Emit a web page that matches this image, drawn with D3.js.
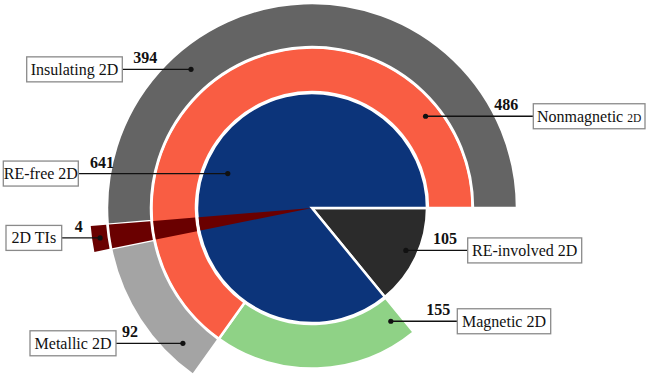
<!DOCTYPE html>
<html>
<head>
<meta charset="utf-8">
<script src="https://cdn.jsdelivr.net/npm/d3@7"></script>
<style>
  body { margin: 0; background: #fff; }
</style>
</head>
<body>
<svg id="chart" width="646" height="388"></svg>
<script>
// data
const innerNames = ["RE-involved 2D", "RE-free 2D"];
const innerValues = [105, 641];
const middleNames = ["Magnetic 2D", "Nonmagnetic 2D"];
const middleValues = [155, 486];
const outerNames = ["Metallic 2D", "2D TIs", "Insulating 2D"];
const outerValues = [92, 4, 394];

const colors = {
  "RE-involved 2D": "#2b2b2b",
  "RE-free 2D": "#0c347a",
  "Magnetic 2D": "#8fd286",
  "Nonmagnetic 2D": "#f95d43",
  "Metallic 2D": "#a4a4a4",
  "2D TIs": "#6a0000",
  "Insulating 2D": "#646464"
};
const font = "'Liberation Serif', 'Times New Roman', 'DejaVu Serif', serif";

const cx = 312, cy = 208;
const minTI = 14; // min visible share for the tiny TI slice
const svg = d3.select("#chart");
const g = svg.append("g").attr("transform", `translate(${cx},${cy})`);

const total = d3.sum(innerValues);
const ang = d3.scaleLinear().domain([0, total]).range([Math.PI / 2, Math.PI / 2 + 2 * Math.PI]);

// lay out the segments of each ring in value units
function layout(names, values, start) {
  let acc = start;
  return names.map((n, i) => {
    const s = acc;
    acc += values[i];
    return { name: n, value: values[i], s: s, e: acc };
  });
}
const inner = layout(innerNames, innerValues, 0);
const middle = layout(middleNames, middleValues, inner[0].e);
const nonmag = middle[1];
// outer ring fills the nonmagnetic span, TI slice widened to be visible
const span = nonmag.e - nonmag.s;
const rest = span - minTI;
const outerShown = outerValues.map((v, i) => outerNames[i] === "2D TIs" ? minTI : v * rest / span);
const outer = layout(outerNames, outerShown, nonmag.s).map((d, i) => ({ ...d, value: outerValues[i] }));

const rings = [
  { segs: inner, r0: 0, r1: 115 },
  { segs: middle, r0: 116, r1: 160.5 },
  { segs: outer, r0: 161, r1: 205 }
];

const arc = d3.arc();

rings.forEach(ring => {
  g.selectAll(null)
    .data(ring.segs.filter(d => d.name !== "2D TIs"))
    .enter()
    .append("path")
    .attr("d", d => arc({ innerRadius: ring.r0, outerRadius: ring.r1, startAngle: ang(d.s), endAngle: ang(d.e) }))
    .attr("fill", d => colors[d.name])
    .attr("stroke", "#fff")
    .attr("stroke-width", 2.5)
    .attr("stroke-linejoin", "miter");
});

// TI wedge through every ring plus the exploded outer piece
const ti = outer.find(d => d.name === "2D TIs");
const tiBands = [[0, 113.8], [117.3, 159.3], [162.3, 203.8], [206.5, 222]];
g.selectAll(null)
  .data(tiBands)
  .enter()
  .append("path")
  .attr("d", b => arc({ innerRadius: b[0], outerRadius: b[1], startAngle: ang(ti.s), endAngle: ang(ti.e) }))
  .attr("fill", colors["2D TIs"]);

// labels: which segment, where the dot sits, where the box goes
const all = [...inner, ...middle, ...outer];
const labels = [
  { name: "Insulating 2D", f: 0.29, r: 184, bx: 26.7, bw: 95.6, nx: 11 },
  { name: "RE-free 2D", f: 0.49, r: 91, bx: 3.3, bw: 75, nx: 11.7 },
  { name: "Nonmagnetic 2D", f: 0.834, r: 146, bx: 533.3, bw: 111.7, nx: -15 },
  { name: "2D TIs", f: 0.5, r: 214, bx: 6, bw: 55.7, nx: 13 },
  { name: "Metallic 2D", f: 0.19, r: 187, bx: 30, bw: 86, nx: 6 },
  { name: "RE-involved 2D", f: 0.48, r: 103, bx: 467.7, bw: 114, nx: -10.7 },
  { name: "Magnetic 2D", f: 0.06, r: 138, bx: 457.3, bw: 93.4, nx: -7 }
];
const boxH = 25;

labels.forEach(l => {
  const seg = all.find(d => d.name === l.name);
  const a = ang(seg.s + l.f * (seg.e - seg.s));
  const px = cx + l.r * Math.sin(a);
  const py = cy - l.r * Math.cos(a);
  const left = l.bx + l.bw < px; // box sits left of the dot
  const edge = left ? l.bx + l.bw : l.bx;

  svg.append("line")
    .attr("x1", edge).attr("y1", py)
    .attr("x2", px).attr("y2", py)
    .attr("stroke", "#111").attr("stroke-width", 1.3);
  svg.append("circle")
    .attr("cx", px).attr("cy", py).attr("r", 2.6)
    .attr("fill", "#111");

  svg.append("rect")
    .attr("x", l.bx).attr("y", py - boxH / 2)
    .attr("width", l.bw).attr("height", boxH)
    .attr("fill", "#fff")
    .attr("stroke", "#8a8a8a").attr("stroke-width", 1.3);

  const t = svg.append("text")
    .attr("x", l.bx + l.bw / 2).attr("y", py + 5.5)
    .attr("text-anchor", "middle")
    .attr("font-family", font)
    .attr("font-size", 16)
    .attr("fill", "#111");
  if (l.name === "Nonmagnetic 2D") {
    t.append("tspan").text("Nonmagnetic ");
    t.append("tspan").attr("font-size", 11.5).text("2D");
  } else {
    t.text(l.name);
  }

  svg.append("text")
    .attr("x", edge + l.nx).attr("y", py - 6)
    .attr("text-anchor", left ? "start" : "end")
    .attr("font-family", font)
    .attr("font-size", 16)
    .attr("font-weight", "bold")
    .attr("fill", "#111")
    .text(seg.value);
});
</script>
</body>
</html>
